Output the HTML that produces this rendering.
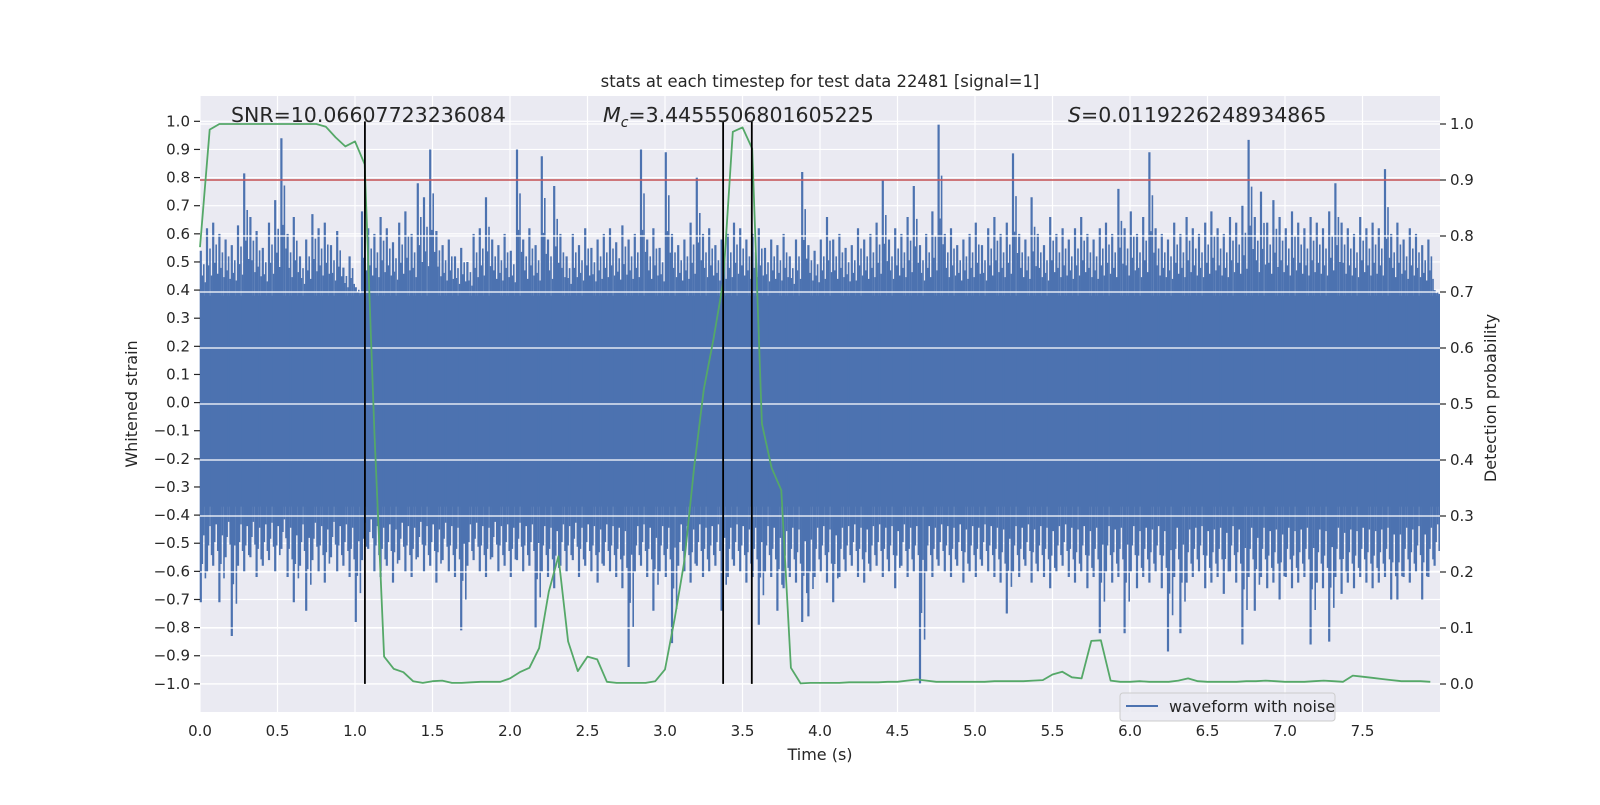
<!DOCTYPE html>
<html><head><meta charset="utf-8"><style>
body{margin:0;background:#fff;}
svg text{font-family:"DejaVu Sans","Liberation Sans",sans-serif;fill:#262626;}
</style></head><body>
<svg id="chart" width="1600" height="800" xmlns="http://www.w3.org/2000/svg">
<rect x="0" y="0" width="1600" height="800" fill="#fff"/>
<rect x="200" y="96" width="1240" height="616" fill="#eaeaf2"/>
<g id="leftGrid"></g>
<g id="wave"></g>
<g id="rightGrid"></g>
<g id="marks"></g>
<g id="axes"></g>
<text x="820" y="87" font-size="16.4" text-anchor="middle">stats at each timestep for test data 22481 [signal=1]</text>
<text x="231" y="122" font-size="20.5">SNR=10.06607723236084</text>
<text x="603" y="122" font-size="20.5"><tspan font-style="italic">M</tspan><tspan font-style="italic" font-size="14" dy="5">c</tspan><tspan dy="-5">=3.4455506801605225</tspan></text>
<text x="1068" y="122" font-size="20.5"><tspan font-style="italic">S</tspan>=0.0119226248934865</text>
<text x="820" y="760" font-size="16" text-anchor="middle">Time (s)</text>
<text transform="translate(137,404) rotate(-90)" font-size="16" text-anchor="middle">Whitened strain</text>
<text transform="translate(1496,398) rotate(-90)" font-size="16" text-anchor="middle">Detection probability</text>
<g>
<rect x="1120" y="693" width="215" height="28" rx="3" fill="#eaeaf2" fill-opacity="0.85" stroke="#cccccc" stroke-width="1"/>
<line x1="1126" y1="706" x2="1158" y2="706" stroke="#4c72b0" stroke-width="2"/>
<text x="1169" y="712" font-size="16">waveform with noise</text>
</g>
</svg>
<script>
const waveStep = 0.04;
const posPeaks = [
0.54,0.62,0.64,0.60,0.58,0.56,0.63,0.815,0.66,0.61,
0.55,0.64,0.72,0.94,0.60,0.66,0.52,0.58,0.67,0.62,
0.64,0.56,0.61,0.48,0.52,0.41,0.68,0.62,0.60,0.66,
0.62,0.57,0.64,0.68,0.60,0.78,0.73,0.90,0.61,0.56,
0.58,0.52,0.55,0.50,0.60,0.62,0.73,0.58,0.56,0.60,
0.54,0.90,0.58,0.62,0.56,0.876,0.58,0.77,0.60,0.52,
0.60,0.56,0.62,0.55,0.58,0.60,0.62,0.57,0.63,0.58,
0.60,0.90,0.58,0.62,0.55,0.89,0.60,0.56,0.58,0.64,
0.80,0.60,0.62,0.56,0.58,0.60,0.64,0.62,0.58,0.60,
0.62,0.55,0.58,0.56,0.60,0.52,0.58,0.82,0.56,0.54,
0.58,0.66,0.58,0.60,0.55,0.56,0.62,0.58,0.60,0.64,
0.79,0.58,0.62,0.60,0.66,0.77,0.56,0.60,0.68,0.99,
0.60,0.62,0.56,0.58,0.60,0.64,0.56,0.62,0.66,0.60,
0.64,0.886,0.60,0.58,0.73,0.60,0.56,0.66,0.60,0.62,
0.58,0.62,0.66,0.60,0.58,0.62,0.64,0.60,0.76,0.62,
0.68,0.60,0.66,0.89,0.62,0.60,0.58,0.64,0.60,0.66,
0.62,0.60,0.64,0.68,0.62,0.60,0.66,0.64,0.70,0.934,
0.66,0.75,0.64,0.72,0.66,0.62,0.68,0.64,0.62,0.66,
0.64,0.62,0.68,0.78,0.64,0.62,0.60,0.66,0.62,0.64,
0.62,0.83,0.60,0.64,0.58,0.62,0.60,0.56,0.58,0.40];
const negPeaks = [
-0.71,-0.60,-0.58,-0.71,-0.55,-0.83,-0.58,-0.60,-0.55,-0.62,
-0.58,-0.56,-0.60,-0.52,-0.62,-0.71,-0.58,-0.74,-0.56,-0.60,
-0.64,-0.55,-0.60,-0.58,-0.62,-0.78,-0.56,-0.52,-0.60,-0.62,
-0.58,-0.64,-0.56,-0.60,-0.62,-0.55,-0.60,-0.58,-0.64,-0.56,
-0.60,-0.62,-0.81,-0.58,-0.56,-0.60,-0.62,-0.55,-0.60,-0.58,
-0.62,-0.56,-0.60,-0.58,-0.80,-0.60,-0.62,-0.66,-0.58,-0.60,
-0.56,-0.62,-0.58,-0.60,-0.64,-0.58,-0.60,-0.62,-0.66,-0.94,
-0.60,-0.58,-0.62,-0.74,-0.60,-0.62,-0.855,-0.58,-0.60,-0.64,
-0.58,-0.62,-0.60,-0.58,-0.74,-0.62,-0.58,-0.60,-0.64,-0.62,
-0.79,-0.60,-0.62,-0.74,-0.66,-0.62,-0.64,-0.78,-0.76,-0.62,
-0.60,-0.64,-0.71,-0.62,-0.60,-0.58,-0.62,-0.64,-0.60,-0.58,
-0.62,-0.60,-0.66,-0.58,-0.62,-0.60,-1.00,-0.60,-0.62,-0.58,
-0.60,-0.62,-0.58,-0.64,-0.60,-0.62,-0.58,-0.60,-0.62,-0.64,
-0.75,-0.60,-0.62,-0.58,-0.64,-0.60,-0.62,-0.66,-0.60,-0.58,
-0.62,-0.64,-0.60,-0.66,-0.62,-0.82,-0.60,-0.64,-0.62,-0.82,
-0.60,-0.66,-0.62,-0.64,-0.60,-0.66,-0.885,-0.62,-0.82,-0.64,
-0.62,-0.60,-0.66,-0.64,-0.62,-0.68,-0.60,-0.64,-0.86,-0.62,
-0.74,-0.62,-0.66,-0.64,-0.70,-0.62,-0.66,-0.64,-0.62,-0.86,
-0.64,-0.66,-0.85,-0.62,-0.68,-0.64,-0.66,-0.62,-0.64,-0.66,
-0.64,-0.62,-0.70,-0.70,-0.62,-0.64,-0.60,-0.70,-0.62,-0.58];
const noiseFloor = [0.38, -0.37];
const probStep = 0.0625;
const probValues = [
0.78,0.99,1.0,1.0,1.0,1.0,1.0,1.0,1.0,1.0,1.0,1.0,1.0,0.995,0.976,0.96,
0.969,0.928,0.45,0.049,0.027,0.021,0.005,0.002,0.005,0.006,0.002,0.002,0.003,0.004,0.004,0.004,
0.010,0.021,0.029,0.064,0.165,0.228,0.076,0.023,0.049,0.044,0.004,0.002,0.002,0.002,0.002,0.005,
0.026,0.117,0.22,0.386,0.526,0.615,0.717,0.986,0.994,0.956,0.465,0.386,0.346,0.029,0.001,0.002,
0.002,0.002,0.002,0.003,0.003,0.003,0.003,0.004,0.004,0.006,0.008,0.006,0.004,0.004,0.004,0.004,
0.004,0.004,0.005,0.005,0.005,0.005,0.006,0.007,0.017,0.022,0.012,0.010,0.077,0.078,0.006,0.004,
0.004,0.005,0.004,0.004,0.004,0.006,0.010,0.005,0.004,0.004,0.004,0.004,0.005,0.005,0.006,0.005,
0.004,0.004,0.004,0.005,0.006,0.005,0.004,0.015,0.013,0.011,0.009,0.007,0.005,0.005,0.005,0.004];
const thresholdValue = [0.9];
const eventTimes = [1.064, 3.375, 3.56];
const xTicks = [0,0.5,1,1.5,2,2.5,3,3.5,4,4.5,5,5.5,6,6.5,7,7.5];
const xTickLabels = ["0.0","0.5","1.0","1.5","2.0","2.5","3.0","3.5","4.0","4.5","5.0","5.5","6.0","6.5","7.0","7.5"];
const leftTicks = [1.0,0.9,0.8,0.7,0.6,0.5,0.4,0.3,0.2,0.1,0.0,-0.1,-0.2,-0.3,-0.4,-0.5,-0.6,-0.7,-0.8,-0.9,-1.0];
const rightTicks = [0.0,0.1,0.2,0.3,0.4,0.5,0.6,0.7,0.8,0.9,1.0];

const NS="http://www.w3.org/2000/svg";
const X0=200,X1=1440,Y0=96,Y1=712;
function xs(t){return X0 + (t-0)/(8-0)*(X1-X0);}
function yL(v){return Y1 - (v-(-1.1))/(1.09-(-1.1))*(Y1-Y0);}
function yR(v){return Y1 - (v-(-0.05))/(1.05-(-0.05))*(Y1-Y0);}
function mk(tag,attrs,parent){const e=document.createElementNS(NS,tag);for(const k in attrs)e.setAttribute(k,attrs[k]);parent.appendChild(e);return e;}
const fmt=v=>{const s=v.toFixed(1);return v<0?"\u2212"+s.slice(1):(s==="-0.0"?"0.0":s);};

const lg=document.getElementById('leftGrid');
leftTicks.forEach(v=>{const l=mk('line',{x1:X0,x2:X1,y1:yL(v),y2:yL(v),stroke:'#fff','stroke-width':1.2},lg);

});
xTicks.forEach(t=>{const l=mk('line',{x1:xs(t),x2:xs(t),y1:Y0,y2:Y1,stroke:'#fff','stroke-width':1.2},lg);

});

const wv=document.getElementById('wave');
const core=mk('rect',{x:X0,y:yL(noiseFloor[0]),width:xs(posPeaks.length*waveStep)-X0,height:yL(noiseFloor[1])-yL(noiseFloor[0]),fill:'#4c72b0'},wv);


const subFracs=[[1.5,0.45,0.6,1.6],[3.0,0.7,0.3,1.6],[4.6,0.3,0.75,1.6]];
posPeaks.forEach((p,i)=>{const x=xs(i*waveStep)+0.8;
const b=mk('line',{x1:x,x2:x,y1:yL(p),y2:yL(negPeaks[i]),stroke:'#4c72b0','stroke-width':2.2},wv);


subFracs.forEach(f=>{const x2=x+f[0];
const p2=noiseFloor[0]+(p-noiseFloor[0])*f[1], n2=noiseFloor[1]+(negPeaks[i]-noiseFloor[1])*f[2];
const b2=mk('line',{x1:x2,x2:x2,y1:yL(p2),y2:yL(n2),stroke:'#4c72b0','stroke-width':f[3]},wv);

});});

const rg=document.getElementById('rightGrid');
rightTicks.forEach(v=>{const l=mk('line',{x1:X0,x2:X1,y1:yR(v),y2:yR(v),stroke:'#fff','stroke-width':1.2},rg);

});

const mg=document.getElementById('marks');
const red=mk('line',{x1:X0,x2:X1,y1:yR(thresholdValue[0]),y2:yR(thresholdValue[0]),stroke:'#c44e52','stroke-width':1.6},mg);


const pts=probValues.map((v,i)=>xs(i*probStep).toFixed(1)+','+yR(v).toFixed(1)).join(' ');
const gl=mk('polyline',{points:pts,fill:'none',stroke:'#55a868','stroke-width':1.8,'stroke-linejoin':'round'},mg);


eventTimes.forEach(t=>{const l=mk('line',{x1:xs(t),x2:xs(t),y1:yL(1),y2:yL(-1),stroke:'#000','stroke-width':1.8},mg);

});

const ax=document.getElementById('axes');
leftTicks.forEach(v=>{mk('line',{x1:X0-6,x2:X0,y1:yL(v),y2:yL(v),stroke:'#262626','stroke-width':1.2},ax);
const t=mk('text',{x:X0-10,y:yL(v)+5,'font-size':15,'text-anchor':'end'},ax);t.textContent=fmt(v);

});
rightTicks.forEach(v=>{mk('line',{x1:X1,x2:X1+6,y1:yR(v),y2:yR(v),stroke:'#262626','stroke-width':1.2},ax);
const t=mk('text',{x:X1+10,y:yR(v)+5,'font-size':15},ax);t.textContent=fmt(v);

});
xTicks.forEach((v,i)=>{const t=mk('text',{x:xs(v),y:736,'font-size':15,'text-anchor':'middle'},ax);t.textContent=xTickLabels[i];

});
</script>
</body></html>
